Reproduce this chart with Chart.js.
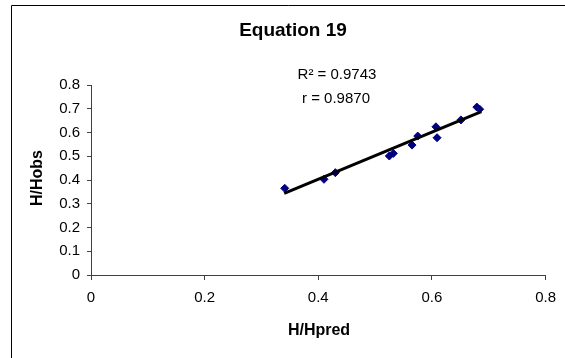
<!DOCTYPE html>
<html>
<head>
<meta charset="utf-8">
<script src="https://cdn.jsdelivr.net/npm/chart.js@4/dist/chart.umd.min.js"></script>
<style>
  html, body { margin: 0; padding: 0; background: #fff; }
  canvas { display: block; }
</style>
</head>
<body>
<canvas id="eqChart" width="565" height="358"></canvas>
<script>
'use strict';

// values
const predX  = [0.341, 0.410, 0.430, 0.525, 0.532, 0.565, 0.575, 0.607, 0.609, 0.651, 0.679, 0.684];
const obsY   = [0.365, 0.403, 0.431, 0.501, 0.512, 0.547, 0.585, 0.624, 0.578, 0.653, 0.707, 0.698];
const trendX = [0.340, 0.687];
const trendY = [0.344, 0.688];
const xTicks = [0, 0.2, 0.4, 0.6, 0.8];
const yTicks = [0, 0.1, 0.2, 0.3, 0.4, 0.5, 0.6, 0.7, 0.8];

const TITLE = 'Equation 19';
const STATS = ['R² = 0.9743', 'r = 0.9870'];
const FONT = '"Liberation Sans", Arial, sans-serif';
const AXIS_COLOR = '#404040';

// frame, title, stats and axis titles
const decorPlugin = {
  id: 'decor',
  afterDraw(chart) {
    const c = chart.ctx;
    c.save();
    c.strokeStyle = '#000';
    c.lineWidth = 1;
    c.beginPath();
    c.moveTo(11.5, 358);
    c.lineTo(11.5, 5.5);
    c.lineTo(565, 5.5);
    c.stroke();

    c.fillStyle = '#000';
    c.textAlign = 'center';
    c.textBaseline = 'middle';
    c.font = 'bold 19px ' + FONT;
    c.fillText(TITLE, 293, 31);

    c.font = '15px ' + FONT;
    c.fillText(STATS[0], 337, 75);
    c.fillText(STATS[1], 336, 99);

    c.font = 'bold 16px ' + FONT;
    c.fillText('H/Hpred', 319, 331);
    c.translate(38, 178);
    c.rotate(-Math.PI / 2);
    c.fillText('H/Hobs', 0, 0);
    c.restore();
  },
};

new Chart(document.getElementById('eqChart'), {
  type: 'scatter',
  data: {
    datasets: [
      {
        label: 'trend',
        type: 'line',
        data: trendX.map((x, i) => ({ x, y: trendY[i] })),
        borderColor: '#000',
        borderWidth: 3,
        pointRadius: 0,
        fill: false,
        order: 0,
      },
      {
        label: 'H/Hobs',
        data: predX.map((x, i) => ({ x, y: obsY[i] })),
        pointStyle: 'rectRot',
        pointRadius: 4,
        backgroundColor: '#000080',
        borderColor: '#000080',
        borderWidth: 1,
        order: 1,
      },
    ],
  },
  options: {
    responsive: false,
    animation: false,
    devicePixelRatio: 1,
    layout: { padding: { left: 0, top: 85, right: 17, bottom: 0 } },
    plugins: {
      legend: { display: false },
      tooltip: { enabled: false },
      title: { display: false },
    },
    scales: {
      x: {
        type: 'linear',
        min: 0,
        max: 0.8,
        afterFit(scale) { scale.height = 83; },
        afterBuildTicks(scale) { scale.ticks = xTicks.map(v => ({ value: v })); },
        ticks: {
          color: '#000',
          font: { family: FONT, size: 15 },
          padding: 9,
          maxRotation: 0,
        },
        grid: { drawOnChartArea: false, drawTicks: true, tickLength: 5, color: AXIS_COLOR },
        border: { color: AXIS_COLOR, width: 1 },
      },
      y: {
        type: 'linear',
        min: 0,
        max: 0.8,
        afterFit(scale) { scale.width = 91; },
        afterBuildTicks(scale) { scale.ticks = yTicks.map(v => ({ value: v })); },
        ticks: {
          color: '#000',
          font: { family: FONT, size: 15 },
          padding: 7,
        },
        grid: { drawOnChartArea: false, drawTicks: true, tickLength: 4, color: AXIS_COLOR },
        border: { color: AXIS_COLOR, width: 1 },
      },
    },
  },
  plugins: [decorPlugin],
});
</script>
</body>
</html>
